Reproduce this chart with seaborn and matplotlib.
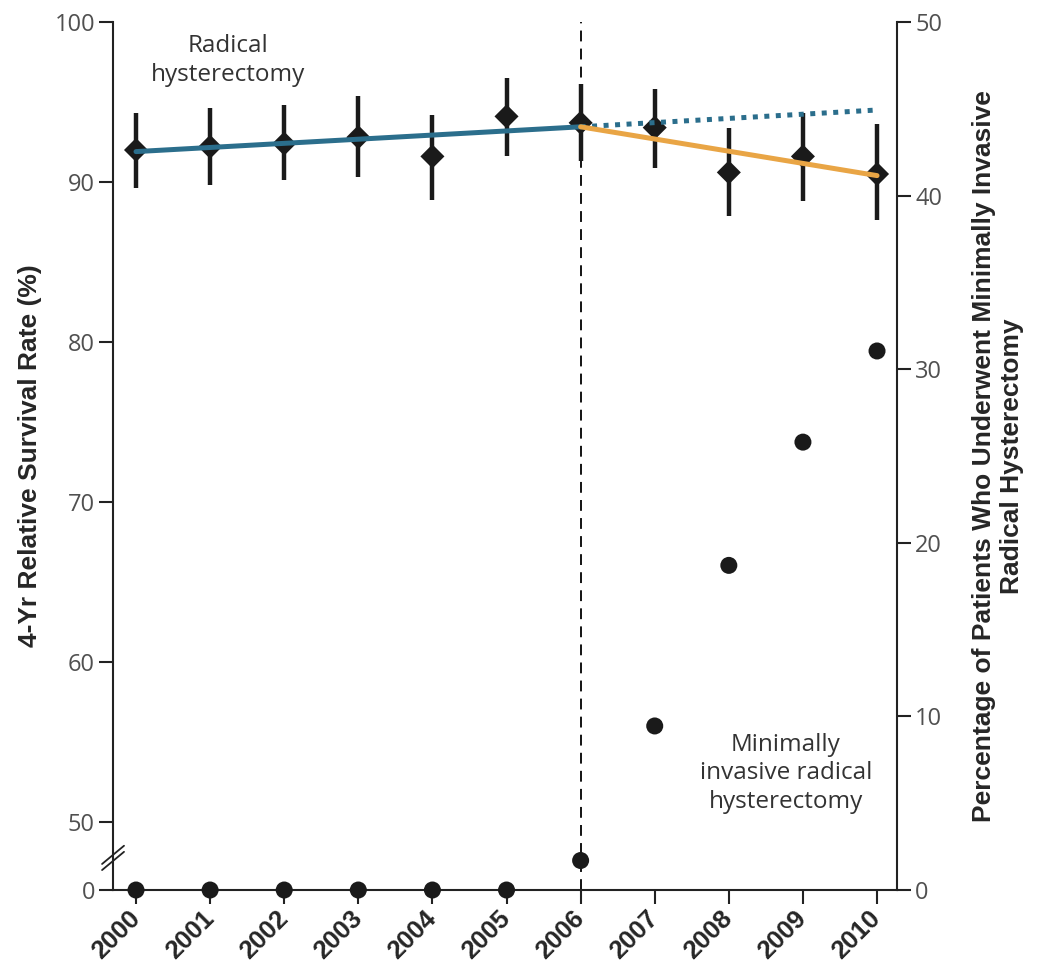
import numpy as np
import pandas as pd
import matplotlib.pyplot as plt
import matplotlib.transforms as mtransforms
import seaborn as sns

# ---- data ----
years = [2000, 2001, 2002, 2003, 2004, 2005, 2006, 2007, 2008, 2009, 2010]
survival = [92.0, 92.2, 92.4, 92.8, 91.6, 94.1, 93.7, 93.4, 90.6, 91.6, 90.5]
surv_low = [89.6, 89.8, 90.1, 90.3, 88.9, 91.6, 91.3, 90.9, 87.9, 88.8, 87.6]
surv_high = [94.3, 94.6, 94.8, 95.4, 94.2, 96.5, 96.1, 95.8, 93.4, 94.3, 93.6]
mis_pct = [0, 0, 0, 0, 0, 0, 1.7, 9.45, 18.7, 25.8, 31.05]

trend_pre_years = [2000, 2006]
trend_pre = [91.9, 93.45]
trend_proj_years = [2006, 2010]
trend_proj = [93.45, 94.5]
trend_post_years = [2006, 2010]
trend_post = [93.45, 90.4]

left_ticks = [0, 50, 60, 70, 80, 90, 100]
right_ticks = [0, 10, 20, 30, 40, 50]

df = pd.DataFrame({"year": years, "survival": survival, "low": surv_low,
                   "high": surv_high, "mis": mis_pct})

sns.set_style("white")
plt.rcParams["font.family"] = ["Open Sans", "DejaVu Sans"]
cond = ["Liberation Sans Narrow", "Liberation Sans", "DejaVu Sans"]

BLUE = "#2b6e8c"
ORANGE = "#e9a545"
TICKGRAY = "#505050"

# broken left axis: 0..50 squeezed into the bottom gap
BRK = 3.917
SLOPE = (50 - BRK) / 50


def fwd(v):
    v = np.asarray(v, dtype=float)
    return np.where(v < 50, v * BRK / 50, BRK + (v - 50) * SLOPE)


def inv(u):
    u = np.asarray(u, dtype=float)
    return np.where(u < BRK, u * 50 / BRK, 50 + (u - BRK) / SLOPE)


fig = plt.figure(figsize=(10.38, 9.65), dpi=100)
ax = fig.add_axes([0.1089, 0.0777, 0.7553, 0.8995])
ax2 = ax.twinx()

ax.set_yscale("function", functions=(fwd, inv))
ax.set_ylim(0, 100)
ax2.set_ylim(0, 50)
ax.set_xlim(1999.69, 2010.27)

# vertical dashed line at 2006
ax.axvline(2006, color="black", lw=1.3, ls=(0, (6, 4)), zorder=1)

# trend lines
sns.lineplot(x=trend_pre_years, y=trend_pre, ax=ax, color=BLUE, lw=3.6, zorder=3)
sns.lineplot(x=trend_proj_years, y=trend_proj, ax=ax, color=BLUE, lw=3.6,
             zorder=3, linestyle=(0, (1, 1.3)))
sns.lineplot(x=trend_post_years, y=trend_post, ax=ax, color=ORANGE, lw=3.6, zorder=3)

# error bars + diamonds
ax.vlines(df["year"], df["low"], df["high"], color="#1a1a1a", lw=3.2, zorder=2)
sns.scatterplot(data=df, x="year", y="survival", ax=ax, marker="D", s=150,
                color="#1a1a1a", edgecolor="none", zorder=2.5)

# minimally invasive share (right axis)
sns.scatterplot(data=df, x="year", y="mis", ax=ax2, marker="o", s=150,
                color="#1a1a1a", edgecolor="none", clip_on=False, zorder=4)

# axes styling
for a in (ax, ax2):
    for s in a.spines.values():
        s.set_linewidth(1.5)
        s.set_color("#222222")
    a.spines["top"].set_visible(False)
ax.spines["right"].set_visible(False)
ax2.spines["left"].set_visible(False)
ax2.spines["bottom"].set_visible(False)

ax.set_yticks(left_ticks)
ax.set_yticklabels([str(t) for t in left_ticks])
ax.yaxis.set_minor_locator(plt.NullLocator())
ax2.set_yticks(right_ticks)
ax.set_xticks(years)
ax.set_xticklabels([str(y) for y in years], rotation=45, ha="right", va="center",
                   rotation_mode="anchor", fontweight="bold", fontsize=18.5,
                   family=cond)
shift = mtransforms.ScaledTranslation(7 / 72, 0, fig.dpi_scale_trans)
for lbl in ax.get_xticklabels():
    lbl.set_transform(lbl.get_transform() + shift)

ax.tick_params(axis="y", direction="out", length=10, width=1.5, color="#222222",
               labelsize=17, labelcolor=TICKGRAY, pad=3, left=True)
ax2.tick_params(axis="y", direction="out", length=10, width=1.5, color="#222222",
                labelsize=17, labelcolor=TICKGRAY, pad=3, right=True)
ax.tick_params(axis="x", direction="out", length=10, width=1.5, color="#222222",
               pad=8, bottom=True)

ax.set_xlabel("")
ax.set_ylabel("4-Yr Relative Survival Rate (%)", fontsize=19, fontweight="bold",
              family=cond)
ax.yaxis.set_label_coords(-0.09, 0.5)
ax2.set_ylabel("Percentage of Patients Who Underwent Minimally Invasive\nRadical Hysterectomy",
               fontsize=19, fontweight="bold", family=cond, linespacing=1.25)
ax2.yaxis.set_label_coords(1.095, 0.5)

# axis break marks on the left spine
for dy in (0.0, 0.007):
    ax.plot([-0.014, 0.014], [0.023 + dy, 0.044 + dy], transform=ax.transAxes,
            color="#222222", lw=1.3, clip_on=False)

# annotations
ax.text(2001.24, 97.6, "Radical\nhysterectomy", ha="center", va="center",
        fontsize=17.5, color="#333333", linespacing=1.25)
ax2.text(2008.77, 6.74, "Minimally\ninvasive radical\nhysterectomy", ha="center",
         va="center", fontsize=17.5, color="#333333", linespacing=1.25)

fig.savefig("out.png", dpi=100)
